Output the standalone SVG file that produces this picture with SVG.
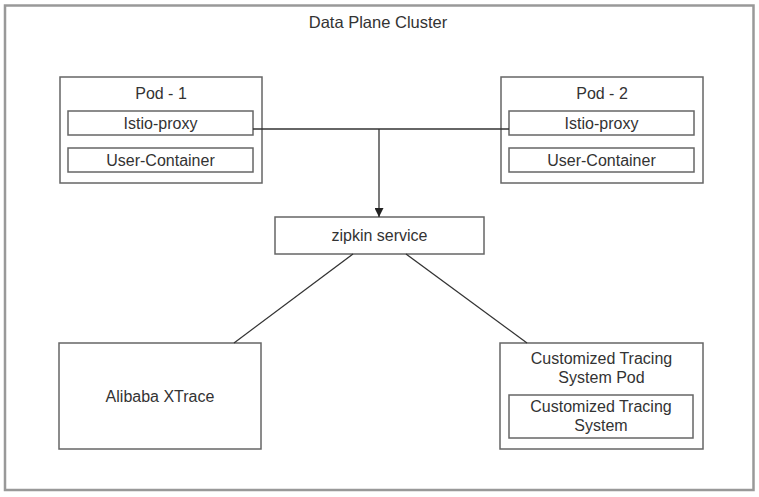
<svg xmlns="http://www.w3.org/2000/svg" width="759" height="497" viewBox="0 0 759 497">
<style>
.box{fill:#fff;stroke:#666;stroke-width:1.5}
.frame{fill:#fff;stroke:#999;stroke-width:2.5}
.t{font-family:"Liberation Sans",Arial,sans-serif;font-size:16px;fill:#333;text-anchor:middle}
.ln{fill:none;stroke:#333;stroke-width:1.3}
</style>
<defs>
<marker id="arr" viewBox="0 0 10 10" refX="10" refY="5" markerWidth="9" markerHeight="9" markerUnits="userSpaceOnUse" orient="auto">
<path d="M0,0 L10,5 L0,10 z" fill="#222"/>
</marker>
</defs>
<g id="cluster">
<rect class="frame" x="5" y="5.5" width="748.5" height="484.5"/>
<text class="t" x="378" y="28" style="font-size:16.5px">Data Plane Cluster</text>
</g>
<g id="pod1">
<rect class="box" x="60" y="77" width="202" height="106"/>
<text class="t" x="161" y="99">Pod - 1</text>
<rect class="box" x="68" y="111" width="185" height="24"/>
<text class="t" x="160.5" y="129">Istio-proxy</text>
<rect class="box" x="68" y="148" width="185" height="24"/>
<text class="t" x="160.5" y="166">User-Container</text>
</g>
<g id="pod2">
<rect class="box" x="501" y="77" width="202" height="106"/>
<text class="t" x="602" y="99">Pod - 2</text>
<rect class="box" x="509" y="111" width="185" height="24"/>
<text class="t" x="601.5" y="129">Istio-proxy</text>
<rect class="box" x="509" y="148" width="185" height="24"/>
<text class="t" x="601.5" y="166">User-Container</text>
</g>
<g id="zipkin">
<rect class="box" x="275" y="217" width="209" height="37"/>
<text class="t" x="379.5" y="241">zipkin service</text>
</g>
<g id="xtrace">
<rect class="box" x="59" y="343" width="202" height="106"/>
<text class="t" x="160" y="402">Alibaba XTrace</text>
</g>
<g id="custom">
<rect class="box" x="500" y="343" width="203" height="106"/>
<text class="t" x="601.5" y="364">Customized Tracing</text>
<text class="t" x="601.5" y="383">System Pod</text>
<rect class="box" x="509" y="395" width="184" height="43"/>
<text class="t" x="601" y="412">Customized Tracing</text>
<text class="t" x="601" y="431">System</text>
</g>
<g id="connectors">
<path class="ln" d="M253,129 L509,129"/>
<path class="ln" d="M379,129 L379,217" marker-end="url(#arr)"/>
<path class="ln" d="M353,254 L234,343"/>
<path class="ln" d="M406,254 L527,343"/>
</g>
</svg>
